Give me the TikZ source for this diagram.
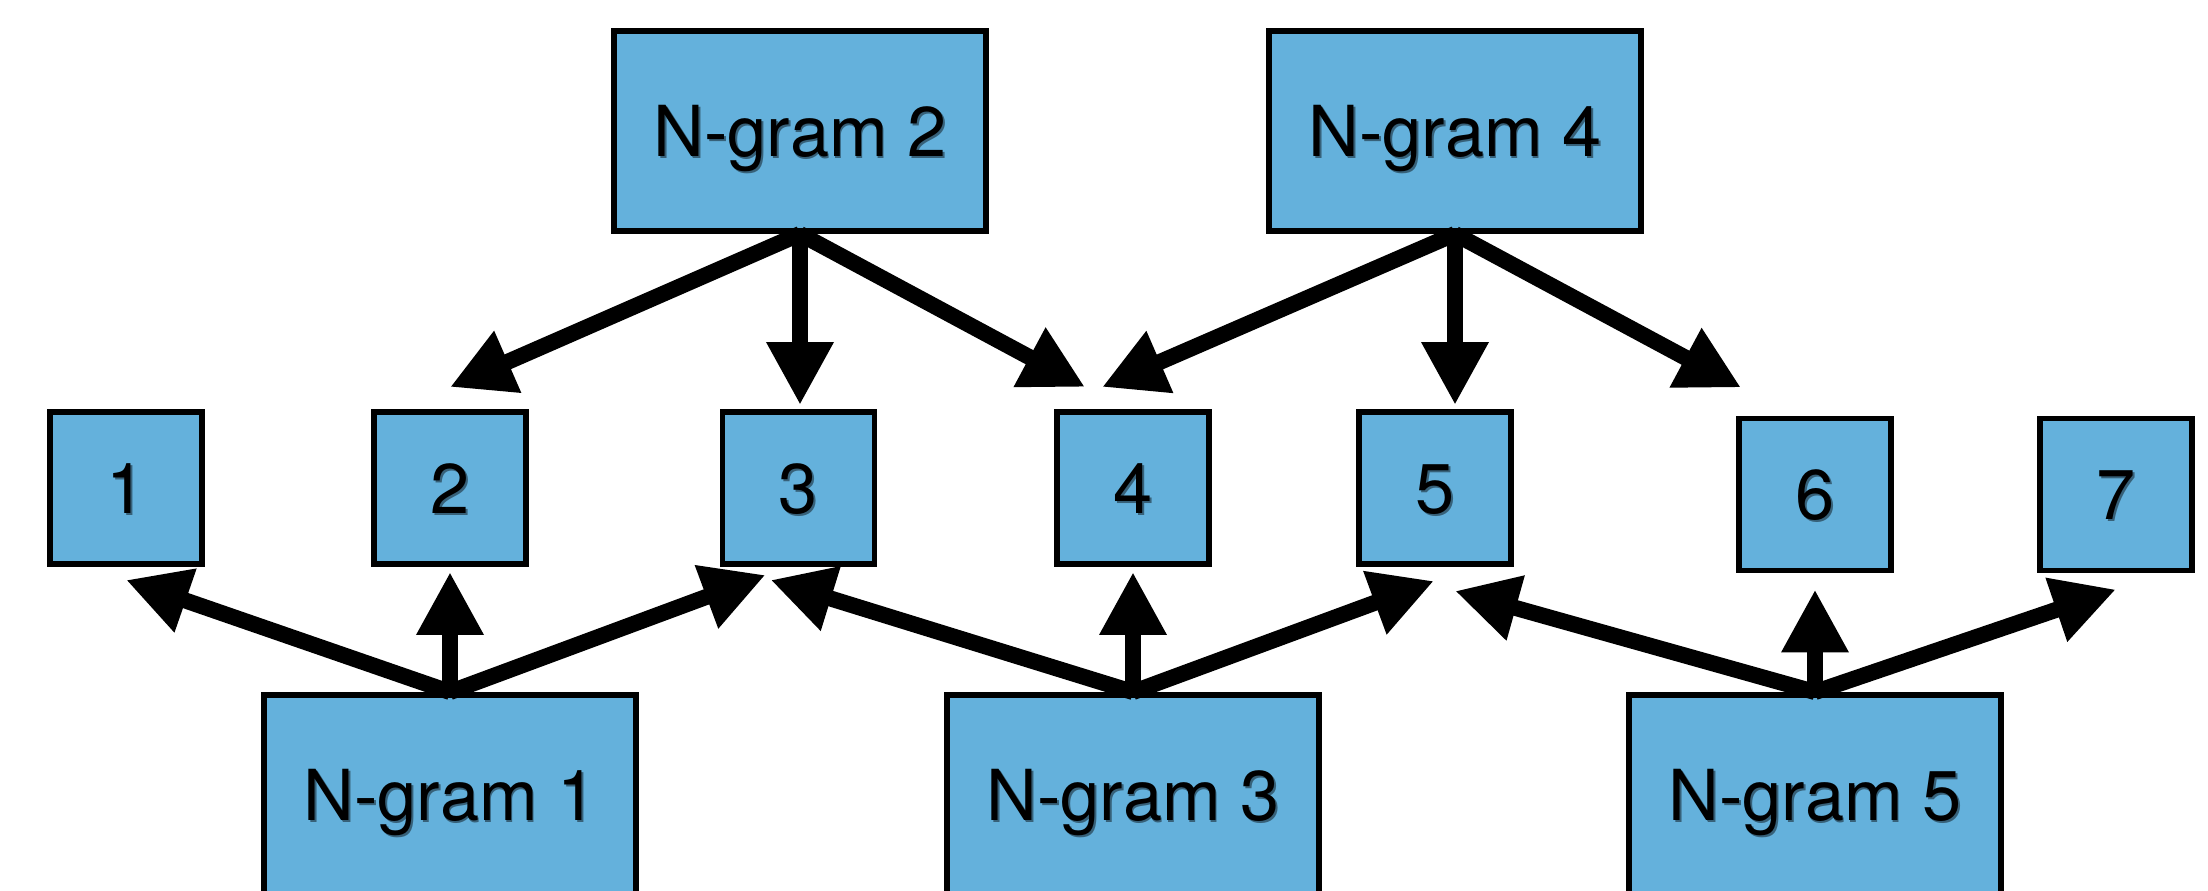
\documentclass[tikz,border=0pt]{standalone}
\usepackage{fontspec}
\setmainfont{TeX Gyre Heros}
\usetikzlibrary{arrows.meta,calc}
\definecolor{boxblue}{RGB}{100,177,220}
\newcommand\shtext[1]{\makebox[0pt][l]{\hspace{0.5pt}\raisebox{-0.6pt}{\textcolor{boxblue!55!black}{#1}}}#1}
\begin{document}
\begin{tikzpicture}[x=0.01cm,y=-0.01cm,
  box/.style={draw=black, line width=0.58mm, fill=boxblue, inner sep=0pt,
    font=\fontsize{20}{24}\selectfont, text height=14.4pt, text depth=0pt},
  bigbox/.style={box, minimum width=3.72cm, minimum height=2cm},
  smallbox/.style={box, minimum width=1.52cm, minimum height=1.52cm},
  arr/.style={line width=1.6mm, -{Triangle[length=6.3mm, width=6.3mm]}},
]
\path[use as bounding box] (0,0) rectangle (2208,891);
\fill[white] (0,0) rectangle (2208,891);
\clip (0,0) rectangle (2208,891);

\node[bigbox] (n2) at (800,131) {\shtext{N-gram 2}};
\node[bigbox] (n4) at (1455,131) {\shtext{N-gram 4}};

\node[smallbox] (b1) at (126,488) {\shtext{1}};
\node[smallbox] (b2) at (450,488) {\shtext{2}};
\node[smallbox] (b3) at (798.5,488) {\shtext{3}};
\node[smallbox] (b4) at (1133,488) {\shtext{4}};
\node[smallbox] (b5) at (1435,488) {\shtext{5}};
\node[smallbox] (b6) at (1815,494.5) {\shtext{6}};
\node[smallbox] (b7) at (2116,494.5) {\shtext{7}};

\node[bigbox] (n1) at (450,795) {\shtext{N-gram 1}};
\node[bigbox] (n3) at (1133,795) {\shtext{N-gram 3}};
\node[bigbox] (n5) at (1815,795) {\shtext{N-gram 5}};

% top arrows
\draw[arr] (n2.south) -- ($(b2.north)+(0,-22)$);
\draw[arr] (n2.south) -- ($(n2.south |- b3.north)+(0,-4)$);
\draw[arr] (n2.south) -- ($(b4.north west)+(31,-22)$);
\draw[arr] (n4.south) -- ($(b4.north west)+(48,-22)$);
\draw[arr] (n4.south) -- ($(n4.south |- b5.north)+(0,-4)$);
\draw[arr] (n4.south) -- ($(b6.north west)+(5,-28)$);

% bottom arrows
\draw[arr] (n1.north) -- ($(b1.south)+(0,13)$);
\draw[arr] (n1.north) -- ($(n1.north |- b2.south)+(0,5)$);
\draw[arr] (n1.north) -- ($(b3.south west)+(46,8)$);
\draw[arr] (n3.north) -- ($(b3.south west)+(51,13)$);
\draw[arr] (n3.north) -- ($(n3.north |- b4.south)+(0,5)$);
\draw[arr] (n3.north) -- ($(b5.south)+(-1,14)$);
\draw[arr] (n5.north) -- ($(b5.south)+(20,24)$);
\draw[arr] (n5.north) -- ($(n5.north |- b6.south)+(0,16)$);
\draw[arr] (n5.north) -- ($(b7.south)+(0,16)$);
\end{tikzpicture}
\end{document}
